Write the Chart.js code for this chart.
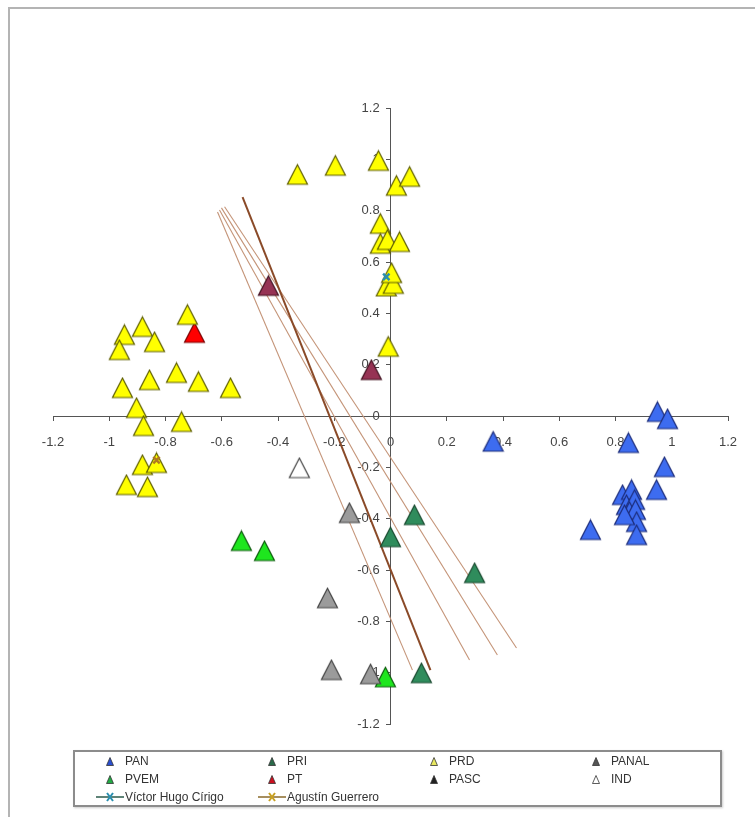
<!DOCTYPE html>
<html>
<head>
<meta charset="utf-8">
<script src="https://cdn.jsdelivr.net/npm/chart.js@4.4.1/dist/chart.umd.min.js"></script>
<style>
  html, body { margin: 0; padding: 0; background: #fff; overflow: hidden; }
  #frame { position: absolute; left: 8px; top: 7px; width: 760px; height: 840px;
           border-left: 2px solid #b4b4b4; border-top: 2px solid #b4b4b4; }
  #chart { position: absolute; left: 0; top: 0; }
  #legend { position: absolute; left: 73px; top: 750px; width: 625px; height: 53px;
            border: 2px solid #8c8c8c; box-shadow: 1px 1px 2px #ccc;
            display: grid; grid-template-columns: 162px 162px 162px 139px;
            grid-auto-rows: 18px; padding-left: 20px; box-sizing: content-box;
            font-family: 'Liberation Sans Narrow', 'Liberation Sans', Arial, sans-serif;
            font-size: 12px; color: #333; }
  .item { display: flex; align-items: center; white-space: nowrap; }
  .sym { width: 30px; height: 12px; display: flex; align-items: center; justify-content: center; }
</style>
</head>
<body>
<div id="frame"></div>
<canvas id="chart" width="755" height="817"></canvas>
<div id="legend"></div>
<script>
// party positions [x, y]
const pan = [[0.949, 0.016], [0.985, -0.012], [0.846, -0.105], [0.974, -0.199], [0.946, -0.288],
  [0.711, -0.444], [0.365, -0.1], [0.825, -0.308], [0.857, -0.288], [0.839, -0.347],
  [0.868, -0.327], [0.85, -0.374], [0.871, -0.366], [0.875, -0.413], [0.875, -0.464], [0.832, -0.386]];
const pri = [[0.085, -0.386], [0, -0.472], [0.299, -0.612], [0.11, -1.002]];
const prd = [[-0.331, 0.94], [-0.196, 0.975], [-0.043, 0.994], [0.021, 0.897], [0.068, 0.932],
  [-0.036, 0.749], [-0.036, 0.671], [-0.011, 0.686], [0.032, 0.678], [-0.015, 0.505],
  [0.01, 0.515], [0.004, 0.557], [-0.008, 0.27],
  [-0.722, 0.394], [-0.946, 0.316], [-0.964, 0.257], [-0.882, 0.347], [-0.839, 0.288],
  [-0.953, 0.109], [-0.857, 0.14], [-0.761, 0.168], [-0.683, 0.133], [-0.569, 0.109],
  [-0.903, 0.031], [-0.878, -0.039], [-0.743, -0.023], [-0.882, -0.191], [-0.832, -0.183],
  [-0.939, -0.269], [-0.864, -0.277]];
const panal = [[-0.146, -0.378], [-0.224, -0.71], [-0.21, -0.99], [-0.071, -1.006]];
const pvem = [[-0.53, -0.487], [-0.448, -0.526], [-0.018, -1.018]];
const pt = [[-0.697, 0.324]];
const pasc = [[-0.434, 0.507], [-0.068, 0.179]];
const ind = [[-0.324, -0.203]];
const cirigo = [[-0.015, 0.542]];
const guerrero = [[-0.832, -0.172]];

// cutting lines
const lineStartX = [-0.615, -0.526, -0.608, -0.601, -0.590];
const lineStartY = [0.795, 0.853, 0.803, 0.811, 0.815];
const lineEndX = [0.078, 0.142, 0.281, 0.380, 0.448];
const lineEndY = [-0.99, -0.99, -0.951, -0.931, -0.904];

const ticks = [-1.2, -1, -0.8, -0.6, -0.4, -0.2, 0, 0.2, 0.4, 0.6, 0.8, 1, 1.2];

function tri(fill, stroke) {
  const c = document.createElement('canvas');
  c.width = 23; c.height = 23;
  const g = c.getContext('2d');
  g.beginPath();
  g.moveTo(11.5, 1.5); g.lineTo(21.5, 21); g.lineTo(1.5, 21); g.closePath();
  g.fillStyle = fill; g.fill();
  g.lineWidth = 1.2; g.strokeStyle = stroke; g.stroke();
  return c;
}

const parties = [
  { label: 'PAN', data: pan, fill: '#3d6cf0', stroke: '#1c2c7a', mark: '#2a4fd0' },
  { label: 'PRI', data: pri, fill: '#2f8c5c', stroke: '#1a4a30', mark: '#2a6a4a' },
  { label: 'PRD', data: prd, fill: '#ffff00', stroke: '#5e5e00', mark: '#e8e860' },
  { label: 'PANAL', data: panal, fill: '#9b9b9b', stroke: '#454545', mark: '#555555' },
  { label: 'PVEM', data: pvem, fill: '#1ee61e', stroke: '#0c5a0c', mark: '#22aa44' },
  { label: 'PT', data: pt, fill: '#ff0000', stroke: '#7a0000', mark: '#cc1020' },
  { label: 'PASC', data: pasc, fill: '#963354', stroke: '#40101f', mark: '#222222' },
  { label: 'IND', data: ind, fill: '#ffffff', stroke: '#444444', mark: '#ffffff' }
];

const toXY = arr => arr.map(p => ({ x: p[0], y: p[1] }));

const datasets = [
  { label: 'Víctor Hugo Círigo', data: toXY(cirigo), pointStyle: 'crossRot', pointRadius: 4.5,
    borderColor: '#2a8fb0', backgroundColor: '#2a8fb0', pointBorderWidth: 2.5 },
  { label: 'Agustín Guerrero', data: toXY(guerrero), pointStyle: 'crossRot', pointRadius: 4.5,
    borderColor: '#b07a20', backgroundColor: '#b07a20', pointBorderWidth: 2.5 }
];
parties.forEach(p => {
  datasets.push({ label: p.label, data: toXY(p.data), pointStyle: tri(p.fill, p.stroke),
    backgroundColor: p.fill, borderColor: p.stroke });
});
lineStartX.forEach((x, i) => {
  datasets.push({ label: 'line' + i, data: [{ x: x, y: lineStartY[i] }, { x: lineEndX[i], y: lineEndY[i] }],
    showLine: true, pointRadius: 0, borderColor: i === 1 ? '#8a4a28' : '#c49478',
    borderWidth: i === 1 ? 2 : 1.1 });
});

const tickFont = { family: "'Liberation Sans Narrow', 'Liberation Sans', Arial", size: 13 };
const fmt = v => String(Math.round(v * 10) / 10);

const chart = new Chart(document.getElementById('chart'), {
  type: 'scatter',
  data: { datasets: datasets },
  options: {
    responsive: false,
    animation: false,
    layout: { padding: { left: 53, right: 27, top: 108, bottom: 93 } },
    plugins: { legend: { display: false }, tooltip: { enabled: false } },
    scales: {
      x: {
        type: 'linear', min: -1.2, max: 1.2, position: { y: 0 },
        afterBuildTicks: s => { s.ticks = ticks.map(v => ({ value: v })); },
        afterFit: s => { s.height = 0; },
        ticks: { color: '#444', font: tickFont, padding: 15, maxRotation: 0, callback: fmt },
        grid: { drawOnChartArea: false, drawTicks: true, tickLength: 4, color: '#555' },
        border: { display: true, color: '#555', width: 1 }
      },
      y: {
        type: 'linear', min: -1.2, max: 1.2, position: { x: 0 },
        afterBuildTicks: s => { s.ticks = ticks.map(v => ({ value: v })); },
        afterFit: s => { s.width = 0; },
        // centred axis puts labels flush on the line, trailing spaces push them left
        ticks: { color: '#444', font: tickFont, callback: v => fmt(v) + '   ' },
        grid: { drawOnChartArea: false, drawTicks: true, tickLength: 4, color: '#555' },
        border: { display: true, color: '#555', width: 1 }
      }
    }
  }
});

// html legend in the original's 4-column layout
function triSvg(fill) {
  return '<svg width="8" height="9"><polygon points="4,0.5 7.5,8.5 0.5,8.5" fill="' + fill +
    '" stroke="#333" stroke-width="0.8"/></svg>';
}
function lineSvg(lineCol, markCol) {
  return '<svg width="28" height="10"><line x1="0" y1="5" x2="28" y2="5" stroke="' + lineCol +
    '" stroke-width="1.5"/><path d="M11,1 L17,9 M17,1 L11,9" stroke="' + markCol +
    '" stroke-width="2"/></svg>';
}
const legendEl = document.getElementById('legend');
let html = '';
parties.forEach(p => {
  html += '<div class="item"><span class="sym">' + triSvg(p.mark) + '</span>' + p.label + '</div>';
});
html += '<div class="item"><span class="sym">' + lineSvg('#2a5a4a', '#2a8fb0') + '</span>Víctor Hugo Círigo</div>';
html += '<div class="item"><span class="sym">' + lineSvg('#8a6a2a', '#c8a020') + '</span>Agustín Guerrero</div>';
legendEl.innerHTML = html;
</script>
</body>
</html>
